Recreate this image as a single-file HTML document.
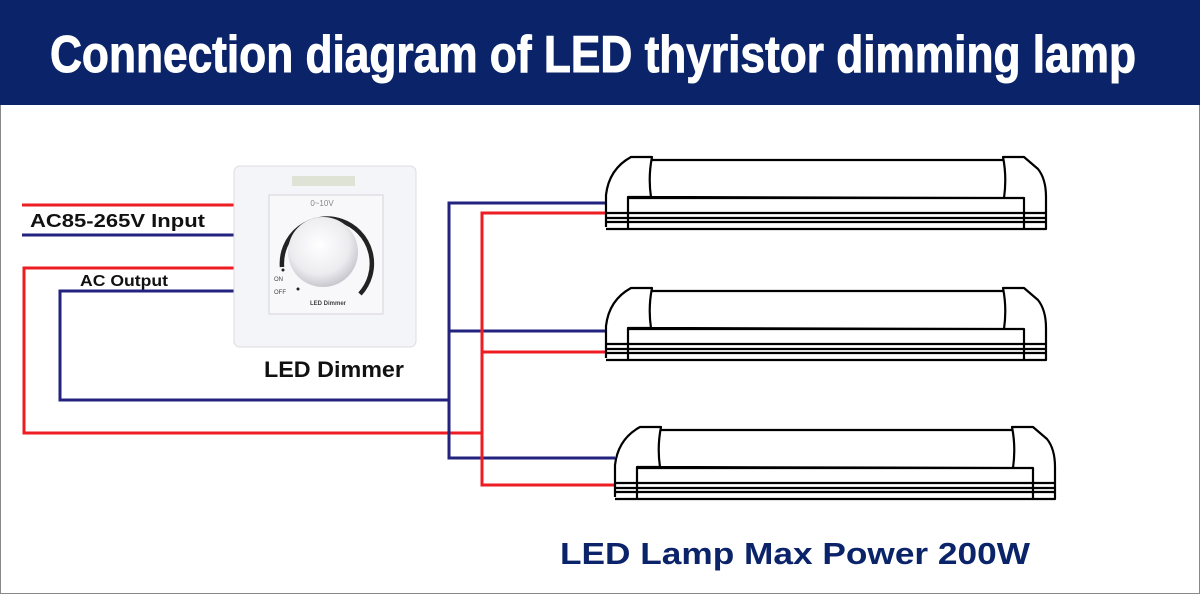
<!DOCTYPE html>
<html><head><meta charset="utf-8"><style>
html,body{margin:0;padding:0;background:#fff;}
svg{display:block;}
</style></head><body>
<svg width="1200" height="594" viewBox="0 0 1200 594" xmlns="http://www.w3.org/2000/svg">
<defs>
<g id="lamp" fill="none" stroke="#000" stroke-width="2.2" stroke-linejoin="round">
  <path d="M0,70 V38 Q3,12 25,0 H46 Q42,20 45,40 H22 V72 M0,72 H440 V40 Q440,22 432,12 L418,0 H397 Q401,20 398,41 M46,3 H397 M45,40 L398,41 M22,41 H418 V72" fill="#fff"/>
  <path d="M0,56 H440 M0,61 H440 M0,65 H440"/>
</g>
<radialGradient id="knob" cx="0.45" cy="0.4" r="0.6"><stop offset="0" stop-color="#ffffff"/><stop offset="0.7" stop-color="#ecebef"/><stop offset="1" stop-color="#c9c8cf"/></radialGradient>
</defs>
<rect x="0" y="0" width="1200" height="594" fill="#fff"/>
<rect x="0.5" y="0.5" width="1199" height="593" fill="none" stroke="#888" stroke-width="1"/>
<rect x="0" y="0" width="1200" height="105" fill="#0b2469"/>
<text x="50" y="72" font-family="Liberation Sans Narrow, Liberation Sans, sans-serif" font-weight="bold" font-size="52" fill="#fff" stroke="#fff" stroke-width="1" textLength="1086" lengthAdjust="spacingAndGlyphs">Connection diagram of LED thyristor dimming lamp</text>

<!-- wires -->
<g fill="none" stroke-width="3">
  <path d="M22,205 H235" stroke="#ee1c23"/>
  <path d="M22,235 H235" stroke="#23237f"/>
  <path d="M235,268 H24 V433 H482" stroke="#ee1c23"/>
  <path d="M235,291 H60 V400 H449" stroke="#23237f"/>
  <path d="M606,203 H449 V458 H615 M449,331 H606" stroke="#23237f"/>
  <path d="M606,213 H482 V485 H620 M482,352 H606" stroke="#ee1c23"/>
</g>
<text x="30" y="227" font-family="Liberation Sans, sans-serif" font-weight="bold" font-size="18" fill="#111" textLength="175" lengthAdjust="spacingAndGlyphs">AC85-265V Input</text>
<text x="80" y="286" font-family="Liberation Sans, sans-serif" font-weight="bold" font-size="16" fill="#111" textLength="88" lengthAdjust="spacingAndGlyphs">AC Output</text>

<!-- dimmer -->
<rect x="234" y="166" width="182" height="181" rx="6" fill="#f4f5f8" stroke="#dcdce2"/>
<rect x="292" y="176" width="63" height="10" fill="#dfe3d6"/>
<rect x="269" y="195" width="114" height="119" fill="#f8f8fa" stroke="#d4d4da"/>
<text x="322" y="206" font-family="Liberation Sans, sans-serif" font-size="8" fill="#888" text-anchor="middle">0~10V</text>
<path d="M282,267 A45,45 0 1 1 360,294" fill="none" stroke="#222" stroke-width="4.5"/>
<circle cx="323" cy="252" r="35" fill="url(#knob)"/>
<circle cx="283" cy="270" r="1.5" fill="#222"/>
<circle cx="298" cy="289" r="1.5" fill="#222"/>
<text x="274" y="281" font-family="Liberation Sans, sans-serif" font-size="6" fill="#444">ON</text>
<text x="274" y="294" font-family="Liberation Sans, sans-serif" font-size="6" fill="#444">OFF</text>
<text x="328" y="305" font-family="Liberation Sans, sans-serif" font-weight="bold" font-size="6" fill="#444" text-anchor="middle">LED  Dimmer</text>
<text x="264" y="377" font-family="Liberation Sans, sans-serif" font-weight="bold" font-size="22" fill="#111" textLength="140" lengthAdjust="spacingAndGlyphs">LED Dimmer</text>

<!-- lamps -->
<use href="#lamp" transform="translate(606,157)"/>
<use href="#lamp" transform="translate(606,288)"/>
<use href="#lamp" transform="translate(615,427)"/>

<text x="560" y="564" font-family="Liberation Sans, sans-serif" font-weight="bold" font-size="31" fill="#0b2469" textLength="470" lengthAdjust="spacingAndGlyphs">LED Lamp Max Power 200W</text>
</svg>
</body></html>
